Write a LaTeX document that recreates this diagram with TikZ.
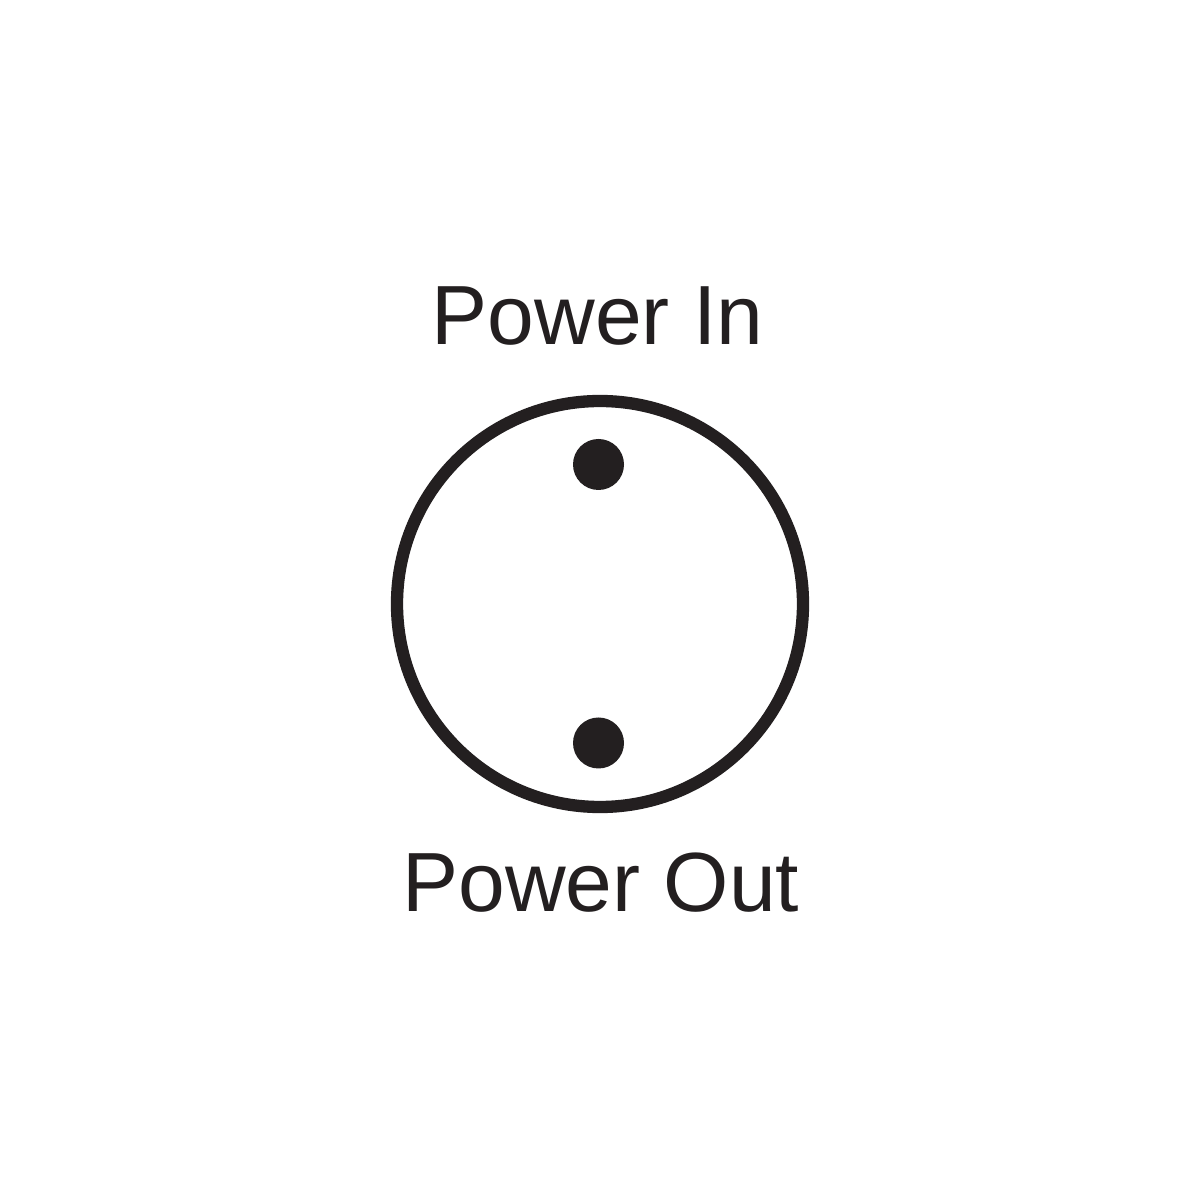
\documentclass[tikz,border=0pt]{standalone}
\usepackage{fontspec}
\setmainfont{Liberation Sans}
\usepackage{tikz}
\usetikzlibrary{positioning}
\definecolor{ink}{HTML}{231F20}
\tikzstyle{ring} = [draw=ink, circle, line width=3.5pt, minimum size=4.06cm, inner sep=0]
\tikzstyle{pin} = [fill=ink, circle, minimum size=0.51cm, inner sep=0]
\tikzstyle{caption} = [anchor=base, inner sep=0, text=ink, font=\fontsize{23.9pt}{28pt}\selectfont]

\begin{document}
\begin{tikzpicture}
  \useasboundingbox[fill=white] (0,0) rectangle (12,12);
  \node[ring] (socket) at (6.0,5.96) {};
  \node[pin] (pinIn) at (5.985,7.355) {};
  \node[pin] (pinOut) at (5.985,4.57) {};

  % labels
  \node[caption] (lblIn) at (5.975,8.55) {Power In};
  \node[caption] (lblOut) at (6.01,2.88) {Power Out};
\end{tikzpicture}
\end{document}
